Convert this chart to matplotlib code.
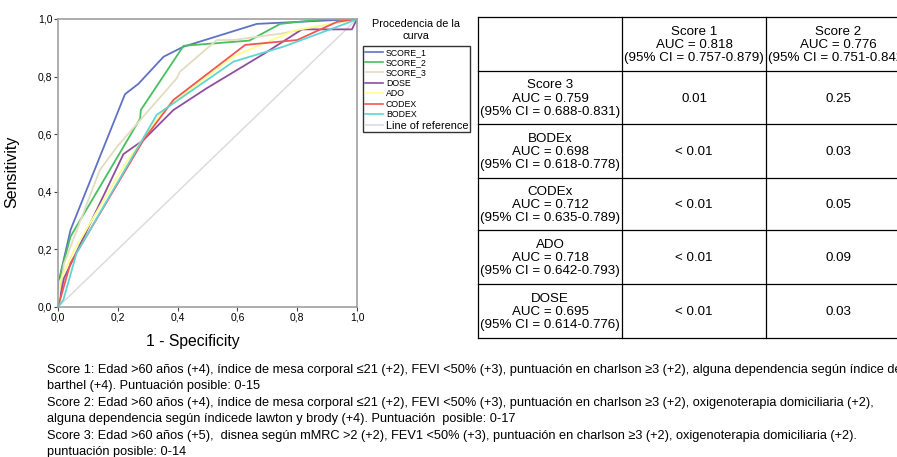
import matplotlib
matplotlib.use("Agg")
import matplotlib.pyplot as plt
from matplotlib.lines import Line2D

plt.rcParams["font.family"] = ["Liberation Sans", "DejaVu Sans"]

# ROC curves (1 - specificity, sensitivity)
score1_x = [0.0, 0.005, 0.042, 0.224, 0.269, 0.353, 0.42, 0.665, 1.0]
score1_y = [0.0, 0.10, 0.268, 0.739, 0.775, 0.869, 0.904, 0.983, 1.0]
score2_x = [0.0, 0.01, 0.042, 0.275, 0.277, 0.42, 0.64, 0.743, 0.894, 1.0]
score2_y = [0.0, 0.12, 0.245, 0.655, 0.684, 0.907, 0.925, 0.983, 1.0, 1.0]
score3_x = [0.0, 0.02, 0.14, 0.20, 0.397, 0.408, 0.531, 0.587, 0.75, 0.90, 1.0]
score3_y = [0.0, 0.15, 0.476, 0.56, 0.794, 0.817, 0.927, 0.927, 0.95, 0.98, 1.0]
dose_x = [0.0, 0.02, 0.219, 0.286, 0.386, 0.498, 0.69, 0.816, 0.983, 1.0]
dose_y = [0.0, 0.10, 0.531, 0.58, 0.684, 0.760, 0.88, 0.964, 0.964, 1.0]
ado_x = [0.0, 0.007, 0.05, 0.22, 0.353, 0.587, 0.79, 1.0]
ado_y = [0.0, 0.09, 0.19, 0.49, 0.684, 0.87, 0.96, 1.0]
codex_x = [0.0, 0.042, 0.286, 0.386, 0.626, 0.80, 0.933, 1.0]
codex_y = [0.0, 0.153, 0.58, 0.719, 0.91, 0.927, 0.99, 1.0]
bodex_x = [0.0, 0.018, 0.062, 0.33, 0.587, 0.754, 0.978, 1.0]
bodex_y = [0.0, 0.025, 0.187, 0.667, 0.852, 0.904, 0.99, 1.0]

curves = [
    ("SCORE_1", score1_x, score1_y, "#5f72c4"),
    ("SCORE_2", score2_x, score2_y, "#48c060"),
    ("SCORE_3", score3_x, score3_y, "#e3dcc0"),
    ("DOSE", dose_x, dose_y, "#8f4f9f"),
    ("ADO", ado_x, ado_y, "#ffff8a"),
    ("CODEX", codex_x, codex_y, "#f25555"),
    ("BODEX", bodex_x, bodex_y, "#62d3d3"),
]

ticks = [0.0, 0.2, 0.4, 0.6, 0.8, 1.0]
tick_labels = ["0,0", "0,2", "0,4", "0,6", "0,8", "1,0"]

# comparison table
col_headers = [
    ["Score 1", "AUC = 0.818", "(95% CI = 0.757-0.879)"],
    ["Score 2", "AUC = 0.776", "(95% CI = 0.751-0.842)"],
]
row_headers = [
    ["Score 3", "AUC = 0.759", "(95% CI = 0.688-0.831)"],
    ["BODEx", "AUC = 0.698", "(95% CI = 0.618-0.778)"],
    ["CODEx", "AUC = 0.712", "(95% CI = 0.635-0.789)"],
    ["ADO", "AUC = 0.718", "(95% CI = 0.642-0.793)"],
    ["DOSE", "AUC = 0.695", "(95% CI = 0.614-0.776)"],
]
p_vs_score1 = ["0.01", "< 0.01", "< 0.01", "< 0.01", "< 0.01"]
p_vs_score2 = ["0.25", "0.03", "0.05", "0.09", "0.03"]

footnote = [
    "Score 1: Edad >60 años (+4), índice de mesa corporal \u226421 (+2), FEVI <50% (+3), puntuación en charlson \u22653 (+2), alguna dependencia según índice de",
    "barthel (+4). Puntuación posible: 0-15",
    "Score 2: Edad >60 años (+4), índice de mesa corporal \u226421 (+2), FEVI <50% (+3), puntuación en charlson \u22653 (+2), oxigenoterapia domiciliaria (+2),",
    "alguna dependencia según índicede lawton y brody (+4). Puntuación  posible: 0-17",
    "Score 3: Edad >60 años (+5),  disnea según mMRC >2 (+2), FEV1 <50% (+3), puntuación en charlson \u22653 (+2), oxigenoterapia domiciliaria (+2).",
    "puntuación posible: 0-14",
]

W, H = 897, 457
fig = plt.figure(figsize=(W / 100, H / 100), dpi=100)

# ── ROC plot ────────────────────────────────────────────────────────────────
ax = fig.add_axes([58 / W, 1 - 307 / H, 299 / W, 288 / H])
ax.plot([0, 1], [0, 1], color="#dcdcdc", lw=1.1, zorder=1)
for name, xs, ys, color in curves:
    ax.plot(xs, ys, color=color, lw=1.3, label=name, zorder=2)
ax.set_xlim(0, 1)
ax.set_ylim(0, 1)
ax.set_xticks(ticks)
ax.set_xticklabels(tick_labels)
ax.set_yticks(ticks)
ax.set_yticklabels(tick_labels)
ax.tick_params(labelsize=7.5, length=3, width=0.8, color="#444444", pad=1)
for sp in ax.spines.values():
    sp.set_color("#a0a0a0")
    sp.set_linewidth(1.2)
ax.set_xlabel("1 - Specificity", fontsize=11.3)
ax.xaxis.set_label_coords(0.45, -0.095)
ax.set_ylabel("Sensitivity", fontsize=11.5)
ax.yaxis.set_label_coords(-0.13, 0.47)

handles = [Line2D([], [], color=c, lw=1.2) for _, _, _, c in curves]
handles.append(Line2D([], [], color="#dcdcdc", lw=1.2))
labels = [n for n, _, _, _ in curves] + ["Line of reference"]
leg = fig.legend(handles, labels, loc="upper left",
                 bbox_to_anchor=(363 / W, 1 - 46 / H), fontsize=6.3,
                 frameon=True, fancybox=False, borderpad=0.2,
                 labelspacing=0.16, handlelength=2.1, handletextpad=0.3,
                 borderaxespad=0)
leg.get_frame().set_edgecolor("black")
leg.get_frame().set_linewidth(1.0)
leg.get_texts()[-1].set_fontsize(7.8)
fig.text(416 / W, 1 - 30 / H, "Procedencia de la\ncurva", ha="center",
         va="center", fontsize=7.8, linespacing=1.25)

# ── table ───────────────────────────────────────────────────────────────────
tab = fig.add_axes([0, 0, 1, 1])
tab.set_xlim(0, W)
tab.set_ylim(H, 0)
tab.axis("off")
col_x = [478, 622, 766, 910]
row_y = [17, 71, 124, 178, 230, 284, 338]
for x in col_x:
    tab.plot([x, x], [row_y[0], row_y[-1]], color="black", lw=0.9)
for y in row_y:
    tab.plot([col_x[0], col_x[-1]], [y, y], color="black", lw=0.9)

fs = 9.6
for j, lines in enumerate(col_headers):
    cx = (col_x[j + 1] + col_x[j + 2]) / 2
    tab.text(cx, (row_y[0] + row_y[1]) / 2 + 1, "\n".join(lines), ha="center",
             va="center", fontsize=fs, linespacing=1.15)
for i, lines in enumerate(row_headers):
    cy = (row_y[i + 1] + row_y[i + 2]) / 2 + 1
    tab.text((col_x[0] + col_x[1]) / 2, cy, "\n".join(lines), ha="center",
             va="center", fontsize=fs, linespacing=1.15)
    tab.text((col_x[1] + col_x[2]) / 2, cy, p_vs_score1[i], ha="center",
             va="center", fontsize=fs)
    tab.text((col_x[2] + col_x[3]) / 2, cy, p_vs_score2[i], ha="center",
             va="center", fontsize=fs)

# ── footnote ────────────────────────────────────────────────────────────────
for k, line in enumerate(footnote):
    tab.text(47, 370 + k * 16.4, line, ha="left", va="center", fontsize=9.2)

fig.savefig("out.png", dpi=100)
